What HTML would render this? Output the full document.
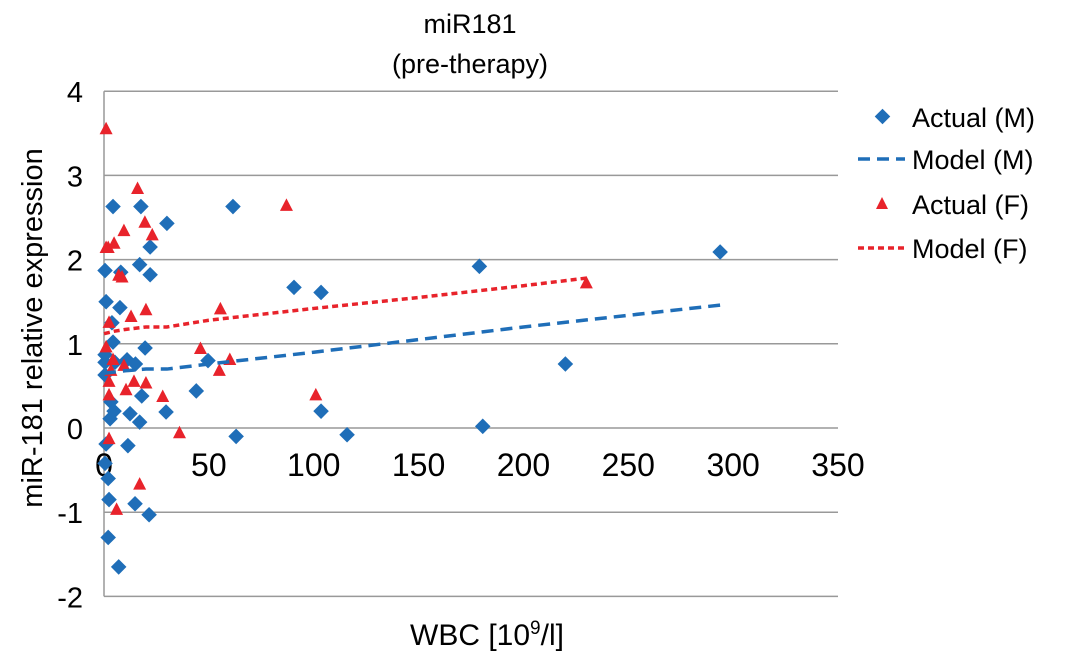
<!DOCTYPE html>
<html><head><meta charset="utf-8"><style>
body{margin:0;background:#fff}
svg text{font-family:"Liberation Sans",Arial,sans-serif;fill:#000}
</style></head><body>
<svg id="c" width="1075" height="660" xmlns="http://www.w3.org/2000/svg">
<g id="grid"></g><g id="marks"></g>
<text x="470" y="33" font-size="27" text-anchor="middle">miR181</text>
<text x="470" y="73" font-size="27" text-anchor="middle">(pre-therapy)</text>
<text x="487" y="645" font-size="30" text-anchor="middle">WBC [10<tspan font-size="19" dy="-11">9</tspan><tspan dy="11">/l]</tspan></text>
<text transform="translate(42,328) rotate(-90)" font-size="29" text-anchor="middle">miR-181 relative expression</text>
<g>
<rect x="877" y="111" width="11" height="11" fill="#1f6eb8" transform="rotate(45 882.5 116.5)"/>
<text x="912" y="127" font-size="27">Actual (M)</text>
<line x1="858" y1="159" x2="905" y2="159" stroke="#1f6eb8" stroke-width="3.5" stroke-dasharray="12,7"/>
<text x="912" y="169" font-size="27">Model (M)</text>
<polygon points="882,197 888,209 876,209" fill="#e8232b"/>
<text x="912" y="214" font-size="27">Actual (F)</text>
<line x1="858" y1="248" x2="905" y2="248" stroke="#e8232b" stroke-width="3.5" stroke-dasharray="6,4"/>
<text x="912" y="258" font-size="27">Model (F)</text>
</g>
</svg>
<script>
const xTicks=[0,50,100,150,200,250,300,350];
const yTicks=[-2,-1,0,1,2,3,4];
const mX=[4.3,17.6,22,30,61.5,0.5,8,17,22,1,7.6,3.8,4.3,19.6,0.5,0.5,0.5,5.2,11,15,3.3,4.8,2.9,12.4,17,18,29.6,44,49.6,63,1,11.4,0.5,2,2.4,14.8,21.5,2,7,90.6,103.5,103.5,115.9,179,180.6,220,293.8];
const mY=[2.63,2.63,2.15,2.43,2.63,1.87,1.85,1.94,1.82,1.5,1.43,1.25,1.02,0.95,0.87,0.78,0.63,0.78,0.81,0.76,0.31,0.2,0.11,0.17,0.07,0.38,0.19,0.44,0.8,-0.1,-0.19,-0.21,-0.42,-0.6,-0.85,-0.9,-1.03,-1.3,-1.65,1.67,1.61,0.2,-0.08,1.92,0.02,0.76,2.09];
const fX=[1,16,4.8,2,9.5,19.5,23,1,7,8.6,20,12.9,2.4,87,55.5,1,46,60,4.3,9.5,3.3,2.4,14.3,20,10.5,2.4,28,55,36,2.4,17,6,101,230];
const fY=[3.56,2.85,2.2,2.15,2.35,2.45,2.3,2.15,1.82,1.8,1.41,1.33,1.26,2.65,1.42,0.97,0.95,0.82,0.82,0.75,0.69,0.56,0.56,0.54,0.46,0.4,0.38,0.69,-0.05,-0.12,-0.66,-0.96,0.4,1.73];
const modelMX=[0,10,20,30,50,100,150,200,294];
const modelMY=[0.65,0.68,0.7,0.7,0.76,0.9,1.05,1.2,1.46];
const modelFX=[0,5,10,20,30,50,100,150,200,230];
const modelFY=[1.12,1.15,1.17,1.2,1.2,1.28,1.42,1.55,1.69,1.78];
const X0=104,X1=838,Y0=428,PY=84.2;
const sx=v=>X0+(X1-X0)*v/350, sy=v=>Y0-v*PY;
const NS="http://www.w3.org/2000/svg";
const g=document.getElementById('grid'),m=document.getElementById('marks');
function mk(t,a,p){const e=document.createElementNS(NS,t);for(const k in a)e.setAttribute(k,a[k]);p.appendChild(e);return e;}
yTicks.forEach(v=>{
 const l=mk('line',{x1:X0,x2:X1,y1:sy(v),y2:sy(v),stroke:'#999','stroke-width':1.5},g);
 
 
 const t=mk('text',{x:83,y:sy(v)+11,'font-size':29,'text-anchor':'end'},g);t.textContent=v;
 
 
});
const ax=mk('line',{x1:X0,x2:X0,y1:sy(4),y2:sy(-2),stroke:'#999','stroke-width':1.5},g);


xTicks.forEach(v=>{
 const t=mk('text',{x:sx(v),y:476,'font-size':32,'text-anchor':'middle'},g);t.textContent=v;
 
 
});
function line(xs,ys,col,dash,name){
 const p=mk('polyline',{points:xs.map((x,i)=>sx(x)+','+sy(ys[i])).join(' '),fill:'none',stroke:col,'stroke-width':3.5,'stroke-dasharray':dash},m);
 
 
}
mX.forEach((x,i)=>{
 const cx=sx(x),cy=sy(mY[i]);
 const d=mk('rect',{x:cx-5.5,y:cy-5.5,width:11,height:11,fill:'#1f6eb8',transform:`rotate(45 ${cx} ${cy})`},m);
 
 
});
fX.forEach((x,i)=>{
 const cx=sx(x),cy=sy(fY[i]);
 const p=mk('polygon',{points:`${cx},${cy-6.5} ${cx+6.5},${cy+6} ${cx-6.5},${cy+6}`,fill:'#e8232b'},m);
 
 
});
line(modelMX,modelMY,'#1f6eb8','12,7','model-m-line');
line(modelFX,modelFY,'#e8232b','6,4','model-f-line');
</script>
</body></html>
